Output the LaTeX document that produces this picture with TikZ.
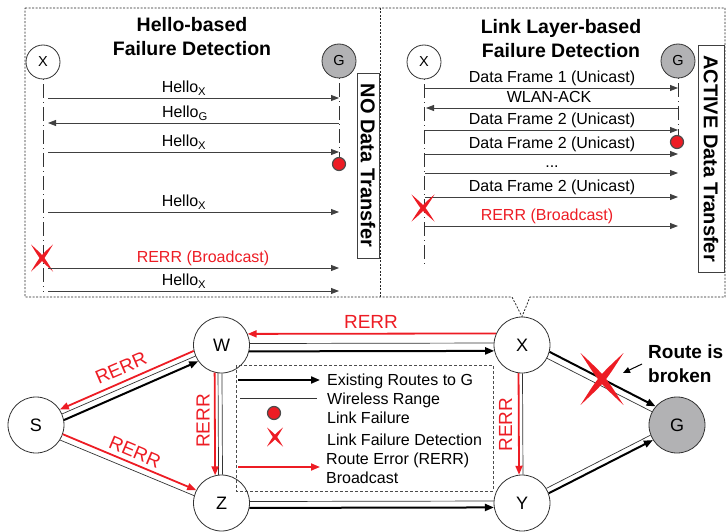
\documentclass[tikz,border=0pt]{standalone}
\usepackage{fontspec}
\setmainfont{Liberation Sans}
\usetikzlibrary{arrows.meta,calc}
\definecolor{xred}{RGB}{237,28,36}
\definecolor{gnodefill}{RGB}{178,178,180}

% link between two circle nodes, parallel to the centre line:
% #2 -> #3, direction angle #4, offset #5 (positive = left of travel)
\newcommand\lnk[5][]{%
  \pgfmathsetmacro\lnkA{mod(#4+asin(#5/28)+720,360)}%
  \pgfmathsetmacro\lnkB{mod(#4+180-asin(#5/28)+720,360)}%
  \draw[#1] (#2.\lnkA) -- (#3.\lnkB);}

% message arrow in a sequence panel between two named end points
\newcommand\msg[5][msg]{%
  \coordinate (#2a) at (#3,#5);
  \coordinate (#2b) at (#4,#5);
  \draw[#1] (#2a) -- (#2b);}

\tikzset{
  pnode/.style={circle, draw=black!80, line width=0.8pt, minimum size=34pt,
    inner sep=0pt, fill=white, font=\fontsize{14.5}{16}\selectfont},
  bnode/.style={circle, draw=black!80, line width=0.8pt, minimum size=56pt,
    inner sep=0pt, fill=white, font=\fontsize{18}{20}\selectfont},
  life/.style={draw=black!80, line width=0.8pt, dash pattern=on 1pt off 4pt on 14pt off 4pt},
  msg/.style={draw=black!75, line width=0.8pt, -{Triangle[length=8pt,width=6pt]}},
  lbl/.style={anchor=base, inner sep=0pt, font=\fontsize{16}{19}\selectfont},
  ttl/.style={align=center, inner sep=0pt, font=\bfseries\fontsize{19.5}{24}\selectfont},
  vbox/.style={draw=black!75, line width=0.8pt, rotate=-90, inner sep=0pt,
    font=\bfseries\fontsize{20}{22}\selectfont},
  panel/.style={draw=black!85, line width=0.8pt, dash pattern=on 2pt off 1.5pt},
  wifi/.style={draw=black!80, line width=0.7pt},
  route/.style={draw=black, line width=2pt, -{Triangle[length=9pt,width=7pt]}},
  rerr/.style={draw=xred, line width=1.8pt, -{Triangle[length=9pt,width=7pt]}},
  rlbl/.style={text=xred, inner sep=0pt, font=\fontsize{19}{22}\selectfont},
  fdot/.style={circle, fill=xred, draw=black!70, line width=1.2pt, minimum size=13pt, inner sep=0pt},
  lgd/.style={anchor=base west, inner sep=0pt, font=\fontsize{16}{19}\selectfont},
  ptr/.style={draw=black, line width=1pt, -{Triangle[length=7pt,width=6pt]}},
  legendbox/.style={draw=black!70, line width=0.6pt, dash pattern=on 3pt off 2pt},
  xmark/.pic={
    \fill[xred] (-0.5,-0.5) .. controls (#1,-#1) .. (0.5,0.5) .. controls (-#1,#1) .. cycle;
    \fill[xred] (0.5,-0.5) .. controls (#1,#1) .. (-0.5,0.5) .. controls (-#1,-#1) .. cycle;
  }
}

\begin{document}
\begin{tikzpicture}[x=1pt,y=-1pt]
\useasboundingbox (0,0) rectangle (726,532);

% ---------------- network nodes ----------------
\node[bnode] (W) at (221.5,345) {W};
\node[bnode] (X) at (522,345) {X};
\node[bnode] (S) at (36,425) {S};
\node[bnode] (Z) at (221.5,503) {Z};
\node[bnode] (Y) at (522,503) {Y};
\node[bnode, fill=gnodefill] (G) at (677,425) {G};

% ---------------- panels ----------------
\draw[panel] (25,8) -- (725,8) -- (725,297) -- (530,297) -- (X.north)
  -- (512,297) -- (25,297) -- cycle;
\draw[panel] (380,8) -- (380,297);

% Hello-based panel
\node[ttl] (t1) at (192,37) {Hello-based\\Failure Detection};
\node[pnode] (hx) at (43,62) {X};
\node[pnode, fill=gnodefill] (hg) at (339,61) {G};
\coordinate (hxe) at (43,292);
\coordinate (hge) at (339,158);
\draw[life] (hx.south) -- (hxe);
\draw[life] (hg.south) -- (hge);
\node[vbox, minimum width=185pt, minimum height=22pt] (nodata) at (368,165.5) {NO Data Transfer};

\msg{h1}{48}{339}{98}
\node[lbl] (h1l) at (184,92.5) {Hello\textsubscript{X}};
\msg{h2}{339}{48}{123}
\node[lbl] (h2l) at (185,117.5) {Hello\textsubscript{G}};
\msg{h3}{48}{339}{152}
\node[lbl] (h3l) at (184,146.5) {Hello\textsubscript{X}};
\node[fdot] (hf) at (339,164) {};
\msg{h4}{48}{339}{212}
\node[lbl] (h4l) at (184,206.5) {Hello\textsubscript{X}};
\pic (hxm) at (42,258) [xscale=22,yscale=27] {xmark=0.075};
\msg{h5}{48}{339}{268}
\node[lbl, text=xred] (h5l) at (203,262.5) {RERR (Broadcast)};
\msg{h6}{48}{339}{291}
\node[lbl] (h6l) at (184,285.5) {Hello\textsubscript{X}};

% Link layer-based panel
\node[ttl] (t2) at (561,38.5) {Link Layer-based\\Failure Detection};
\node[pnode] (lx) at (424,62) {X};
\node[pnode, fill=gnodefill] (lg) at (678,61) {G};
\coordinate (lxe) at (424,268);
\coordinate (lge) at (678,136);
\draw[life] (lx.south) -- (lxe);
\draw[life] (lg.south) -- (lge);
\node[vbox, minimum width=227pt, minimum height=26pt] (active) at (711,158.5) {ACTIVE Data Transfer};

\msg{d1}{425}{678}{88}
\node[lbl] (d1l) at (552,82.5) {Data Frame 1 (Unicast)};
\msg{d2}{678}{426}{108}
\node[lbl] (d2l) at (549,102.5) {WLAN-ACK};
\msg{d3}{425}{678}{130}
\node[lbl] (d3l) at (552,124.5) {Data Frame 2 (Unicast)};
\node[fdot] (lf) at (677,142) {};
\msg{d4}{425}{678}{154}
\node[lbl] (d4l) at (552,148.5) {Data Frame 2 (Unicast)};
\msg{d5}{425}{678}{173}
\node[lbl] (d5l) at (552,167.5) {...};
\msg{d6}{425}{678}{197}
\node[lbl] (d6l) at (552,191.5) {Data Frame 2 (Unicast)};
\pic (lxm) at (423,208) [xscale=23,yscale=27] {xmark=0.075};
\msg{d7}{425}{678}{226}
\node[lbl, text=xred] (d7l) at (547,220.5) {RERR (Broadcast)};

% ---------------- network links ----------------
\lnk[wifi]{W}{X}{0}{1.5}
\lnk[route]{W}{X}{0}{-6}
\lnk[rerr]{X}{W}{180}{-11}
\lnk[wifi]{S}{W}{23.27}{0}
\lnk[route]{S}{W}{23.27}{-6}
\lnk[rerr]{W}{S}{203.27}{-5}
\lnk[wifi]{S}{Z}{-22.86}{-4}
\lnk[rerr]{S}{Z}{-22.86}{2}
\lnk[wifi]{W}{Z}{-90}{-3}
\lnk[wifi]{W}{Z}{-90}{0.5}
\lnk[rerr]{W}{Z}{-90}{-6.5}
\lnk[wifi]{X}{Y}{-90}{0.5}
\lnk[rerr]{X}{Y}{-90}{-3}
\lnk[wifi]{X}{G}{-27.3}{0}
\lnk[route]{X}{G}{-27.3}{6.5}
\lnk[wifi]{Y}{G}{26.7}{2.5}
\lnk[route]{Y}{G}{26.7}{-3}
\lnk[wifi]{Z}{Y}{0}{1.5}
\lnk[route]{Z}{Y}{0}{-4.5}

\node[rlbl] (r1) at (371,322) {RERR};
\node[rlbl, rotate=23.3] (r2) at (121,368) {RERR};
\node[rlbl, rotate=-22.9] (r3) at (135,452) {RERR};
\node[rlbl, rotate=90] (r4) at (203,421) {RERR};
\node[rlbl, rotate=90] (r5) at (505.5,424.5) {RERR};

% broken route
\pic (bxm) at (602,379) [xscale=43,yscale=52] {xmark=0.065};
\node[anchor=base west, inner sep=0pt, font=\bfseries\fontsize{19}{22}\selectfont] (rb1) at (648,358) {Route is};
\node[anchor=base west, inner sep=0pt, font=\bfseries\fontsize{19}{22}\selectfont] (rb2) at (648,382) {broken};
\coordinate (pa) at (642,364);
\coordinate (pb) at (623,373);
\draw[ptr] (pa) -- (pb);

% ---------------- legend ----------------
\draw[legendbox] (236,365) rectangle (493,491);
\coordinate (k1a) at (238,380); \coordinate (k1b) at (320,380);
\draw[route] (k1a) -- (k1b);
\node[lgd] (k1) at (327,385) {Existing Routes to G};
\coordinate (k2a) at (240,398); \coordinate (k2b) at (317,398);
\draw[wifi] (k2a) -- (k2b);
\node[lgd] (k2) at (327,404) {Wireless Range};
\node[fdot] (k3d) at (274,413) {};
\node[lgd] (k3) at (327,423) {Link Failure};
\pic (k4x) at (275,437) [xscale=16,yscale=19] {xmark=0.09};
\node[lgd] (k4) at (327,445) {Link Failure Detection};
\coordinate (k5a) at (238,467); \coordinate (k5b) at (320,467);
\draw[rerr] (k5a) -- (k5b);
\node[lgd] (k5) at (326,464) {Route Error (RERR)};
\node[lgd] (k6) at (326,483) {Broadcast};
\end{tikzpicture}
\end{document}
